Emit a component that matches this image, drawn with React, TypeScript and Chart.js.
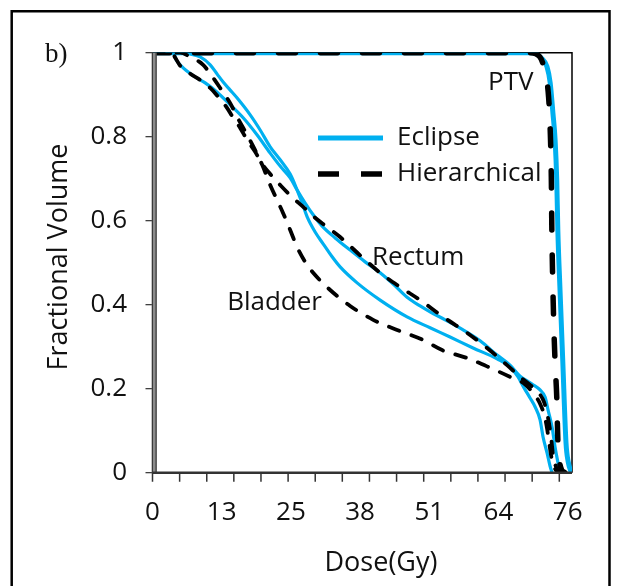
import React, { useEffect, useRef } from 'react';
import { Chart, registerables } from 'chart.js';

Chart.register(...registerables);

// ---- axis ticks ----
const xLabelValues = [0, 12.7, 25.4, 38.1, 50.8, 63.5, 76.2];
const xLabels = ['0', '13', '25', '38', '51', '64', '76'];
const xTickMarks = [0, 4.98, 9.96, 14.93, 19.91, 24.89, 29.87, 34.84, 39.82, 44.8, 49.78, 54.76, 59.73, 64.71, 69.69, 74.67];
const yStep = 0.2;

// ---- series: [dose (Gy), fractional volume] ----
const ptvEclipse: number[][] = [
  [0, 1], [69.8, 1], [71.4, 0.987], [72.4, 0.967], [73.0, 0.928], [73.5, 0.856], [73.9, 0.792],
  [74.2, 0.697], [74.4, 0.578], [74.8, 0.435], [75.3, 0.268], [75.9, 0.071], [76.3, 0.026], [76.9, 0],
];
const ptvHier: number[][] = [
  [0, 1], [69.3, 1], [71.1, 0.99], [72.1, 0.951], [72.7, 0.895], [73.0, 0.816], [73.2, 0.705],
  [73.3, 0.578], [73.6, 0.38], [73.9, 0.261], [74.2, 0.18], [74.4, 0.078], [74.9, 0.014], [75.7, 0],
];
const rectumEclipse: number[][] = [
  [0, 1], [3.8, 1], [4.35, 0.983], [5.45, 0.966], [7.28, 0.947], [9.67, 0.928], [11.87, 0.906],
  [14.26, 0.876], [16.64, 0.845], [19.21, 0.804], [21.6, 0.761], [23.43, 0.73], [25.27, 0.702],
  [26.55, 0.673], [28.02, 0.642], [29.49, 0.614], [31.14, 0.587], [33.52, 0.559], [36.28, 0.53],
  [39.03, 0.502], [41.78, 0.476], [44.53, 0.445], [46.73, 0.418], [49.12, 0.397], [50.95, 0.383],
  [53.71, 0.364], [57.01, 0.34], [60.13, 0.314], [63.25, 0.28], [65.63, 0.256], [67.47, 0.23],
  [69.67, 0.211], [71.14, 0.197], [72.06, 0.18], [72.61, 0.149], [73.34, 0.109], [73.89, 0.061],
  [74.44, 0.023], [74.81, 0],
];
const bladderEclipse: number[][] = [
  [0, 1], [3.98, 1], [6.92, 0.997], [8.75, 0.99], [10.59, 0.971], [11.87, 0.949], [12.97, 0.93],
  [14.26, 0.911], [15.54, 0.892], [17.93, 0.852], [19.76, 0.816], [21.6, 0.776], [23.43, 0.745],
  [25.27, 0.711], [26.55, 0.673], [27.47, 0.642], [28.39, 0.609], [29.85, 0.573], [31.32, 0.545],
  [32.97, 0.514], [34.44, 0.49], [37.56, 0.452], [41.78, 0.411], [46.73, 0.371], [50.95, 0.345],
  [54.62, 0.323], [58.84, 0.297], [63.25, 0.271], [65.63, 0.252], [67.1, 0.228], [68.2, 0.202],
  [69.3, 0.178], [70.22, 0.157], [71.14, 0.126], [71.69, 0.085], [72.42, 0.047], [72.97, 0.016],
  [73.34, 0],
];
const rectumHier: number[][] = [
  [0, 1], [3.61, 1], [4.17, 0.988], [5.08, 0.969], [6.92, 0.95], [8.75, 0.935], [10.59, 0.916],
  [12.06, 0.895], [13.71, 0.868], [14.81, 0.845], [16.09, 0.821], [17.38, 0.792], [18.84, 0.764],
  [20.13, 0.735], [21.6, 0.711], [23.43, 0.685], [25.63, 0.656], [27.65, 0.633], [29.49, 0.611],
  [31.32, 0.592], [34.44, 0.561], [38.66, 0.511], [41.78, 0.476], [45.46, 0.442], [49.12, 0.411],
  [53.34, 0.371], [57.74, 0.333], [61.41, 0.297], [65.08, 0.256], [67.47, 0.228], [69.3, 0.209],
  [70.77, 0.192], [71.87, 0.168], [72.61, 0.13], [73.15, 0.085], [73.52, 0.042], [74.07, 0.014],
  [74.81, 0],
];
const bladderHier: number[][] = [
  [0, 1], [5.08, 1], [6.92, 0.99], [9.3, 0.971], [10.59, 0.95], [12.42, 0.916], [14.26, 0.88],
  [15.54, 0.847], [17.38, 0.804], [18.84, 0.768], [20.13, 0.733], [21.6, 0.685], [22.88, 0.649],
  [23.98, 0.618], [25.27, 0.578], [26.55, 0.537], [28.02, 0.502], [29.49, 0.476], [32.61, 0.435],
  [36.28, 0.397], [40.5, 0.364], [44.9, 0.34], [49.67, 0.316], [53.16, 0.292], [57.74, 0.273],
  [61.96, 0.25], [66.0, 0.226], [68.02, 0.214], [69.85, 0.19], [71.14, 0.164], [72.06, 0.13],
  [72.61, 0.09], [73.15, 0.042], [73.71, 0.014], [74.44, 0],
];

const BLUE = '#00B0F0';
const TEXT = '#111111';
const FONT = '"Open Sans", "DejaVu Sans", sans-serif';

const toPts = (arr: number[][]) => arr.map(([x, y]) => ({ x, y }));

const overlay = {
  id: 'overlay',
  beforeDatasetsDraw(chart: any) {
    const { ctx, chartArea: a } = chart;
    ctx.save();
    ctx.strokeStyle = '#000';
    ctx.lineWidth = 1.5;
    ctx.beginPath();
    ctx.moveTo(a.left, a.top);
    ctx.lineTo(a.right, a.top);
    ctx.lineTo(a.right, a.bottom);
    ctx.stroke();
    ctx.restore();
  },
  afterDraw(chart: any) {
    const { ctx, chartArea: a, scales } = chart;
    const xs = scales.x;
    ctx.save();
    // y axis (double gray line)
    ctx.fillStyle = '#8c8c8c';
    ctx.fillRect(a.left - 0.7, a.top, 4.8, a.bottom - a.top);
    ctx.strokeStyle = '#3a3a3a';
    ctx.lineWidth = 1.2;
    ctx.beginPath();
    ctx.moveTo(a.left - 0.1, a.top);
    ctx.lineTo(a.left - 0.1, a.bottom);
    ctx.moveTo(a.left + 3.6, a.top);
    ctx.lineTo(a.left + 3.6, a.bottom);
    ctx.stroke();
    // x axis
    ctx.strokeStyle = '#333';
    ctx.lineWidth = 2.5;
    ctx.beginPath();
    ctx.moveTo(a.left, a.bottom);
    ctx.lineTo(a.right, a.bottom);
    ctx.stroke();
    ctx.lineWidth = 1.5;
    ctx.beginPath();
    xTickMarks.forEach((v) => {
      const px = xs.getPixelForValue(v);
      ctx.moveTo(px, a.bottom);
      ctx.lineTo(px, a.bottom + 9);
    });
    ctx.stroke();

    // annotations
    ctx.fillStyle = TEXT;
    ctx.font = `26px ${FONT}`;
    ctx.textBaseline = 'alphabetic';
    ctx.textAlign = 'left';
    ctx.fillText('PTV', 488, 90);
    ctx.fillText('Rectum', 372, 265);
    ctx.textAlign = 'right';
    ctx.fillText('Bladder', 322, 310);

    // legend
    ctx.textAlign = 'left';
    ctx.fillText('Eclipse', 397, 145);
    ctx.fillText('Hierarchical', 397, 181);
    ctx.strokeStyle = BLUE;
    ctx.lineWidth = 5;
    ctx.beginPath();
    ctx.moveTo(318, 138);
    ctx.lineTo(383, 138);
    ctx.stroke();
    ctx.strokeStyle = '#000';
    ctx.lineWidth = 5.5;
    ctx.setLineDash([21, 22]);
    ctx.beginPath();
    ctx.moveTo(318, 174);
    ctx.lineTo(383, 174);
    ctx.stroke();
    ctx.setLineDash([]);

    // axis titles
    ctx.textAlign = 'center';
    ctx.font = `27px ${FONT}`;
    ctx.fillText('Dose(Gy)', 381, 571);
    ctx.save();
    ctx.translate(66.5, 257);
    ctx.rotate(-Math.PI / 2);
    ctx.fillText('Fractional Volume', 0, 0);
    ctx.restore();

    // panel label
    ctx.textAlign = 'left';
    ctx.font = '27px "Liberation Serif", serif';
    ctx.fillText('b)', 45, 62);

    // outer frame
    ctx.strokeStyle = '#000';
    ctx.lineWidth = 2.5;
    ctx.beginPath();
    ctx.moveTo(11.7, 600);
    ctx.lineTo(11.7, 11.3);
    ctx.lineTo(609.5, 11.3);
    ctx.lineTo(609.5, 600);
    ctx.stroke();
    ctx.restore();
  },
};

export default function App() {
  const ref = useRef<HTMLCanvasElement | null>(null);
  useEffect(() => {
    if (!ref.current) return;
    const common = {
      pointRadius: 0,
      fill: false,
      cubicInterpolationMode: 'monotone' as const,
      borderJoinStyle: 'round' as const,
    };
    const chart = new Chart(ref.current, {
      type: 'line',
      data: {
        datasets: [
          { ...common, label: 'PTV Hierarchical', data: toPts(ptvHier), borderColor: '#000', borderWidth: 5.5, borderDash: [17, 25], borderCapStyle: 'round' },
          { ...common, label: 'Rectum Hierarchical', data: toPts(rectumHier), borderColor: '#000', borderWidth: 3.8, borderDash: [11, 13], borderCapStyle: 'round' },
          { ...common, label: 'Bladder Hierarchical', data: toPts(bladderHier), borderColor: '#000', borderWidth: 3.8, borderDash: [11, 13], borderCapStyle: 'round' },
          { ...common, label: 'PTV Eclipse', data: toPts(ptvEclipse), borderColor: BLUE, borderWidth: 5 },
          { ...common, label: 'Rectum Eclipse', data: toPts(rectumEclipse), borderColor: BLUE, borderWidth: 3.2 },
          { ...common, label: 'Bladder Eclipse', data: toPts(bladderEclipse), borderColor: BLUE, borderWidth: 3.2 },
        ] as any,
      },
      options: {
        animation: false,
        responsive: false,
        devicePixelRatio: 1,
        layout: { padding: { top: 52.7, right: 49, left: 0, bottom: 0 } },
        plugins: { legend: { display: false }, tooltip: { enabled: false } },
        scales: {
          x: {
            type: 'linear',
            min: 0,
            max: 77,
            afterFit: (s: any) => { s.height = 113.3; },
            afterBuildTicks: (s: any) => { s.ticks = xLabelValues.map((v) => ({ value: v })); },
            ticks: {
              autoSkip: false,
              maxRotation: 0,
              padding: 16,
              color: TEXT,
              font: { family: FONT, size: 26 },
              callback: (_v: any, i: number) => xLabels[i],
            },
            grid: { display: false },
            border: { display: false },
          },
          y: {
            min: 0,
            max: 1,
            afterFit: (s: any) => { s.width = 152.5; },
            ticks: {
              stepSize: yStep,
              padding: 18.5,
              color: TEXT,
              font: { family: FONT, size: 26 },
              callback: (v: any) => String(Number(Number(v).toFixed(1))),
            },
            grid: { drawOnChartArea: false, tickLength: 7, color: '#404040', lineWidth: 1.3 },
            border: { display: false },
          },
        },
      } as any,
      plugins: [overlay],
    });
    return () => chart.destroy();
  }, []);
  return (
    <div style={{ position: 'absolute', left: 0, top: 0, width: 621, height: 586, background: '#fff' }}>
      <canvas ref={ref} width={621} height={586} style={{ display: 'block' }} />
    </div>
  );
}
